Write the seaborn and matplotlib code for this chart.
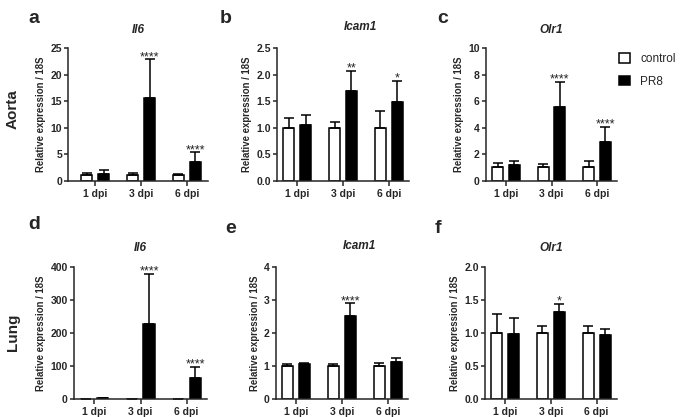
import pandas as pd
import numpy as np
import matplotlib.pyplot as plt
import seaborn as sns
from matplotlib.ticker import FormatStrFormatter

# data (mean + upper error)
days = ['1 dpi', '3 dpi', '6 dpi']
groups = ['control', 'PR8']

aorta_il6_ctrl = [1.0, 1.0, 1.0]
aorta_il6_ctrl_err = [0.4, 0.4, 0.25]
aorta_il6_pr8 = [1.3, 15.7, 3.5]
aorta_il6_pr8_err = [0.65, 7.2, 1.85]
aorta_il6_stars = ['', '****', '****']

aorta_icam1_ctrl = [1.0, 1.0, 1.0]
aorta_icam1_ctrl_err = [0.18, 0.10, 0.32]
aorta_icam1_pr8 = [1.05, 1.69, 1.49]
aorta_icam1_pr8_err = [0.20, 0.38, 0.40]
aorta_icam1_stars = ['', '**', '*']

aorta_olr1_ctrl = [1.0, 1.0, 1.0]
aorta_olr1_ctrl_err = [0.33, 0.23, 0.5]
aorta_olr1_pr8 = [1.16, 5.54, 2.95]
aorta_olr1_pr8_err = [0.35, 1.92, 1.11]
aorta_olr1_stars = ['', '****', '****']

lung_il6_ctrl = [1.0, 1.0, 1.0]
lung_il6_ctrl_err = [0.5, 0.5, 0.5]
lung_il6_pr8 = [4.0, 227, 63]
lung_il6_pr8_err = [1.0, 151, 35.5]
lung_il6_stars = ['', '****', '****']

lung_icam1_ctrl = [1.0, 1.0, 1.0]
lung_icam1_ctrl_err = [0.06, 0.06, 0.08]
lung_icam1_pr8 = [1.06, 2.52, 1.14]
lung_icam1_pr8_err = [0.02, 0.37, 0.12]
lung_icam1_stars = ['', '****', '']

lung_olr1_ctrl = [1.0, 1.0, 1.0]
lung_olr1_ctrl_err = [0.29, 0.10, 0.10]
lung_olr1_pr8 = [0.99, 1.32, 0.97]
lung_olr1_pr8_err = [0.23, 0.12, 0.09]
lung_olr1_stars = ['', '*', '']

panels = [
    ('a', 'Il6', aorta_il6_ctrl, aorta_il6_ctrl_err, aorta_il6_pr8, aorta_il6_pr8_err, aorta_il6_stars, [0, 5, 10, 15, 20, 25]),
    ('b', 'Icam1', aorta_icam1_ctrl, aorta_icam1_ctrl_err, aorta_icam1_pr8, aorta_icam1_pr8_err, aorta_icam1_stars, [0, 0.5, 1.0, 1.5, 2.0, 2.5]),
    ('c', 'Olr1', aorta_olr1_ctrl, aorta_olr1_ctrl_err, aorta_olr1_pr8, aorta_olr1_pr8_err, aorta_olr1_stars, [0, 2, 4, 6, 8, 10]),
    ('d', 'Il6', lung_il6_ctrl, lung_il6_ctrl_err, lung_il6_pr8, lung_il6_pr8_err, lung_il6_stars, [0, 100, 200, 300, 400]),
    ('e', 'Icam1', lung_icam1_ctrl, lung_icam1_ctrl_err, lung_icam1_pr8, lung_icam1_pr8_err, lung_icam1_stars, [0, 1, 2, 3, 4]),
    ('f', 'Olr1', lung_olr1_ctrl, lung_olr1_ctrl_err, lung_olr1_pr8, lung_olr1_pr8_err, lung_olr1_stars, [0, 0.5, 1.0, 1.5, 2.0]),
]

sns.set_style("ticks")
plt.rcParams['font.family'] = ['Liberation Sans', 'DejaVu Sans']
plt.rcParams['font.weight'] = 'bold'
plt.rcParams['axes.linewidth'] = 1.1

W, H = 685, 417
fig = plt.figure(figsize=(W / 100, H / 100), dpi=100)

# axes boxes in pixels: left, top, right, bottom
boxes = {
    'a': (68.3, 48.3, 208, 180.7),
    'b': (277, 48.3, 409, 180.7),
    'c': (486, 48.3, 617, 180.7),
    'd': (74, 266.7, 207, 399.3),
    'e': (275.7, 266.7, 408, 399.3),
    'f': (485, 266.7, 616.7, 399.3),
}
letter_pos = {'a': (28, 23), 'b': (220, 23), 'c': (437, 23),
              'd': (28, 229), 'e': (225, 233), 'f': (435, 233)}

for letter, gene, ctrl, ctrl_err, pr8, pr8_err, stars, yticks in panels:
    x0, y0, x1, y1 = boxes[letter]
    ax = fig.add_axes([x0 / W, 1 - y1 / H, (x1 - x0) / W, (y1 - y0) / H])

    df = pd.DataFrame({'day': days * 2,
                       'group': ['control'] * 3 + ['PR8'] * 3,
                       'value': ctrl + pr8})
    sns.barplot(data=df, x='day', y='value', hue='group', order=days, hue_order=groups,
                palette={'control': 'white', 'PR8': 'black'}, saturation=1,
                edgecolor='black', linewidth=1.1, width=0.74, gap=0.35,
                errorbar=None, legend=False, ax=ax)

    # one-sided error bars and significance stars on top of seaborn's bars
    for cont, errs, marks in [(ax.containers[0], ctrl_err, None), (ax.containers[1], pr8_err, stars)]:
        xs, ys, es = [], [], []
        for bar in cont:
            xc = bar.get_x() + bar.get_width() / 2
            i = int(round(xc))
            xs.append(xc)
            ys.append(bar.get_height())
            es.append(errs[i])
            if marks and marks[i]:
                ax.annotate(marks[i], (xc, bar.get_height() + errs[i]), xytext=(0, -0.5),
                            textcoords='offset points', ha='center', va='baseline',
                            fontsize=9, fontweight='normal', color='#222222')
        ax.errorbar(xs, ys, yerr=[np.zeros(len(es)), es], fmt='none', ecolor='black',
                    elinewidth=1.1, capsize=3.5, capthick=1.1)

    ax.set_xlim(-0.59 if letter == 'a' else -0.44, 2.46 if letter == 'a' else 2.44)
    ax.set_ylim(0, yticks[-1])
    ax.set_yticks(yticks)
    if letter in ('b', 'f'):
        ax.yaxis.set_major_formatter(FormatStrFormatter('%.1f'))
    else:
        ax.yaxis.set_major_formatter(FormatStrFormatter('%d'))
    ax.set_xlabel('')
    ax.set_ylabel('Relative expression / 18S', fontsize=6.9, fontweight='bold', labelpad=3)
    ax.tick_params(axis='y', labelsize=7.5, length=3, width=1.1, pad=1.5)
    ax.tick_params(axis='x', labelsize=7.5, length=3.5, width=1.1, pad=2.2)
    sns.despine(ax=ax)

    if gene == 'Icam1':
        ax.set_title(gene, fontsize=8.5, fontweight='bold', style='italic', x=0.63, pad=13)
    else:
        ax.set_title(gene, fontsize=8.5, fontweight='bold', style='italic', pad=11)

    lx, ly = letter_pos[letter]
    fig.text(lx / W, 1 - ly / H, letter, fontsize=14, fontweight='bold', va='baseline')

    if letter == 'c':
        handles = [ax.containers[0][0], ax.containers[1][0]]
        ax.legend(handles, groups, loc='upper left', bbox_to_anchor=(619 / W, 1 - 53 / H),
                  bbox_transform=fig.transFigure, frameon=False,
                  prop={'size': 8.5, 'weight': 'normal'}, handlelength=0.9, handleheight=0.9,
                  handletextpad=0.9, labelspacing=0.9, borderpad=0, borderaxespad=0)

fig.text(13 / W, 1 - 109 / H, 'Aorta', rotation=90, fontsize=11, fontweight='bold',
         ha='center', va='center')
fig.text(13 / W, 1 - 332 / H, 'Lung', rotation=90, fontsize=11, fontweight='bold',
         ha='center', va='center')

plt.savefig('out.png', dpi=100)
